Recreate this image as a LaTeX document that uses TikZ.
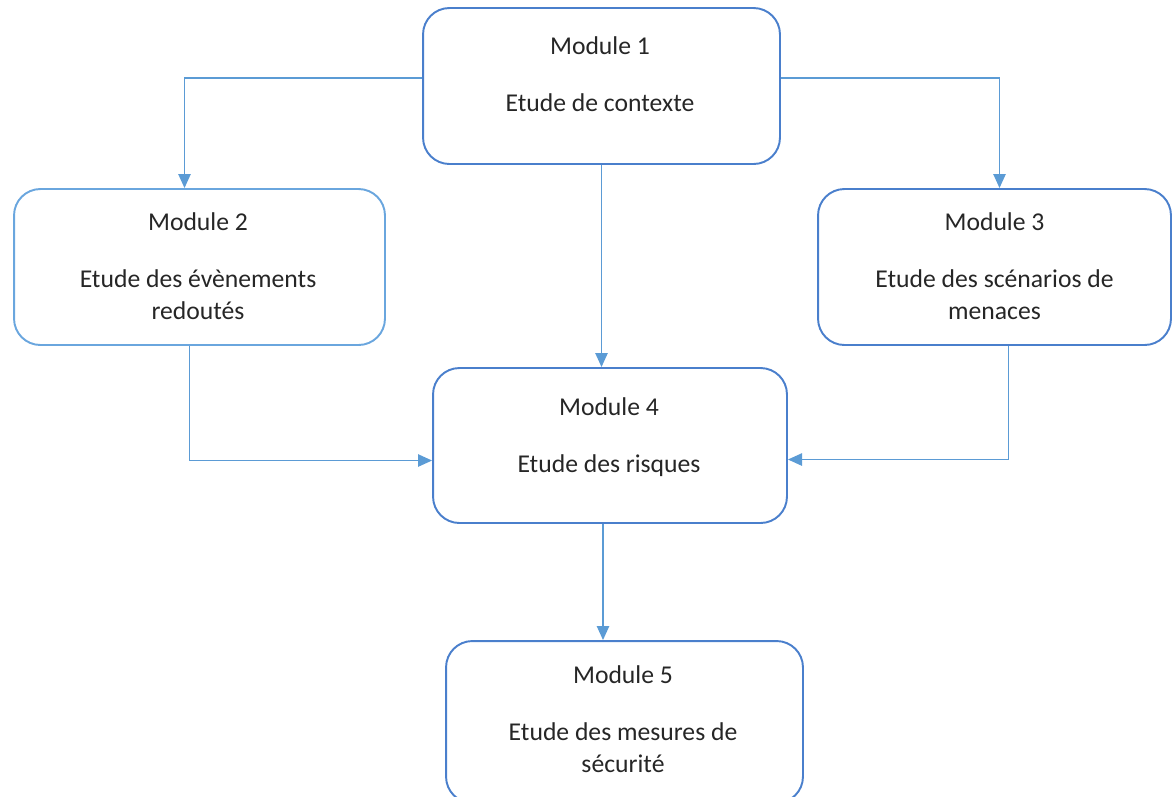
\documentclass[tikz,border=0pt]{standalone}
\usepackage{fontspec}
\setmainfont{Carlito}
\usetikzlibrary{arrows.meta,calc}
\definecolor{boxblue}{HTML}{4A7FCC}
\definecolor{lightblue}{HTML}{6AA6DE}
\definecolor{arrowblue}{HTML}{5B9BD5}
\tikzset{
    modbox/.style={draw=boxblue,line width=1.1pt,rounded corners=15pt,minimum height=#1},
    modbox/.default=4.43cm,
    modtext/.style={anchor=north,inner sep=0pt,align=center,text=black!85,
        font=\fontsize{14.6}{18.1}\selectfont},
    flow/.style={draw=arrowblue,line width=0.95pt,-{Triangle[length=8pt,width=7pt]}}
}
\newcommand\ModText[2]{Module #1\\[14.8pt]#2}

\begin{document}
\begin{tikzpicture}[x=0.02cm,y=-0.02cm]
    \useasboundingbox (0,0) rectangle (1172,796);
    % boxes
    \node[modbox=3.12cm,minimum width=7.14cm] (m1) at (601.5,86) {};
    \node[modbox=3.12cm,minimum width=7.42cm,draw=lightblue] (m2) at (199.5,267) {};
    \node[modbox=3.12cm,minimum width=7.06cm] (m3) at (994.5,267) {};
    \node[modbox=3.10cm,minimum width=7.08cm] (m4) at (610,445.5) {};
    \node[modbox=3.24cm,minimum width=7.14cm] (m5) at (624.5,722) {};
    % texts
    \node[modtext] (t1) at (600,36) {\ModText{1}{Etude de contexte}};
    \node[modtext] (t2) at (198,212) {\ModText{2}{Etude des évènements\\redoutés}};
    \node[modtext] (t3) at (994.5,212) {\ModText{3}{Etude des scénarios de\\menaces}};
    \node[modtext] (t4) at (609,397) {\ModText{4}{Etude des risques}};
    \node[modtext] (t5) at (623,665) {\ModText{5}{Etude des mesures de\\sécurité}};
    % connectors
    \draw[flow] ($(m1.west)+(0,-8)$) -| ($(m2.north)+(-15,0)$);
    \draw[flow] ($(m1.east)+(0,-8)$) -| ($(m3.north)+(5,0)$);
    \draw[flow] (m1.south) -- (m1.south |- m4.north);
    \draw[flow] ($(m2.south)+(-10,0)$) |- ($(m4.west)+(0,15)$);
    \draw[flow] ($(m3.south)+(14,0)$) |- ($(m4.east)+(0,14)$);
    \draw[flow] ($(m4.south)+(-7,0)$) -- ($(m4.south |- m5.north)+(-7,0)$);
\end{tikzpicture}
\end{document}
